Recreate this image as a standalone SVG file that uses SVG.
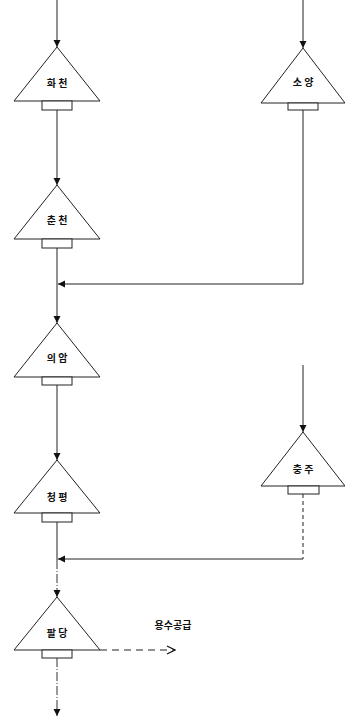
<svg xmlns="http://www.w3.org/2000/svg" width="345" height="727" viewBox="0 0 345 727">
<style>
.tri{fill:#fff;stroke:#222;stroke-width:1}
.box{fill:#fff;stroke:#222;stroke-width:1}
.lbl{font-family:"Noto Sans CJK KR","Noto Sans",sans-serif;font-size:10px;font-weight:bold;fill:#111;text-anchor:middle}
.ln{fill:none;stroke:#222;stroke-width:1}
.dash{fill:none;stroke:#222;stroke-width:1;stroke-dasharray:4 3}
.dd{fill:none;stroke:#333;stroke-width:1;stroke-dasharray:9 2 1 2}
.dash2{fill:none;stroke:#222;stroke-width:1.2;stroke-dasharray:7 5}
</style>
<defs>
<marker id="ah" markerWidth="8" markerHeight="8" refX="7" refY="4" orient="auto" markerUnits="userSpaceOnUse">
<path d="M0,0.5 L7,4 L0,7.5 Z" fill="#111"/>
</marker>
<marker id="oa" markerWidth="10" markerHeight="10" refX="9" refY="5" orient="auto" markerUnits="userSpaceOnUse">
<path d="M1,1 L9,5 L1,9" fill="none" stroke="#111" stroke-width="1.2"/>
</marker>
</defs>
<rect width="345" height="727" fill="#fff"/>
<g id="connectors">
<line class="ln" x1="57" y1="0" x2="57" y2="47" marker-end="url(#ah)"/>
<line class="ln" x1="303" y1="0" x2="303" y2="48" marker-end="url(#ah)"/>
<line class="ln" x1="57" y1="110" x2="57" y2="185" marker-end="url(#ah)"/>
<line class="ln" x1="303" y1="110" x2="303" y2="284"/>
<line class="ln" x1="303" y1="284" x2="58" y2="284" marker-end="url(#ah)"/>
<line class="ln" x1="57" y1="248" x2="57" y2="323" marker-end="url(#ah)"/>
<line class="ln" x1="57" y1="385" x2="57" y2="460" marker-end="url(#ah)"/>
<line class="ln" x1="303" y1="365" x2="303" y2="432" marker-end="url(#ah)"/>
<line class="dash" x1="303" y1="494" x2="303" y2="559"/>
<line class="ln" x1="303" y1="559" x2="58" y2="559" marker-end="url(#ah)"/>
<line class="ln" x1="57" y1="522" x2="57" y2="560"/>
<line class="dd" x1="57" y1="560" x2="57" y2="597" marker-end="url(#ah)"/>
<line class="dd" x1="57" y1="658" x2="57" y2="716" marker-end="url(#ah)"/>
<line class="dash2" x1="100" y1="650" x2="175" y2="650" marker-end="url(#oa)"/>
</g>
<g id="hwacheon">
<polygon class="tri" points="57,47 14,101 100,101"/>
<rect class="box" x="42" y="101" width="30" height="9"/>
<text class="lbl" x="57" y="87">화 천</text>
</g>
<g id="soyang">
<polygon class="tri" points="303,48 261,103 345,103"/>
<rect class="box" x="288" y="103" width="30" height="7"/>
<text class="lbl" x="303" y="86">소 양</text>
</g>
<g id="chuncheon">
<polygon class="tri" points="57,185 14,239 100,239"/>
<rect class="box" x="42" y="239" width="30" height="9"/>
<text class="lbl" x="57" y="224">춘 천</text>
</g>
<g id="uiam">
<polygon class="tri" points="57,323 14,377 100,377"/>
<rect class="box" x="42" y="377" width="30" height="8"/>
<text class="lbl" x="57" y="362">의 암</text>
</g>
<g id="cheongpyeong">
<polygon class="tri" points="57,460 14,513 100,513"/>
<rect class="box" x="42" y="513" width="30" height="9"/>
<text class="lbl" x="57" y="501">청 평</text>
</g>
<g id="chungju">
<polygon class="tri" points="303,432 261,486 345,486"/>
<rect class="box" x="288" y="486" width="31" height="8"/>
<text class="lbl" x="303" y="473">충 주</text>
</g>
<g id="paldang">
<polygon class="tri" points="57,597 14,650 100,650"/>
<rect class="box" x="42" y="650" width="30" height="8"/>
<text class="lbl" x="57" y="637">팔 당</text>
</g>
<g id="supply-label">
<text class="lbl" x="173" y="629">용수공급</text>
</g>
</svg>
